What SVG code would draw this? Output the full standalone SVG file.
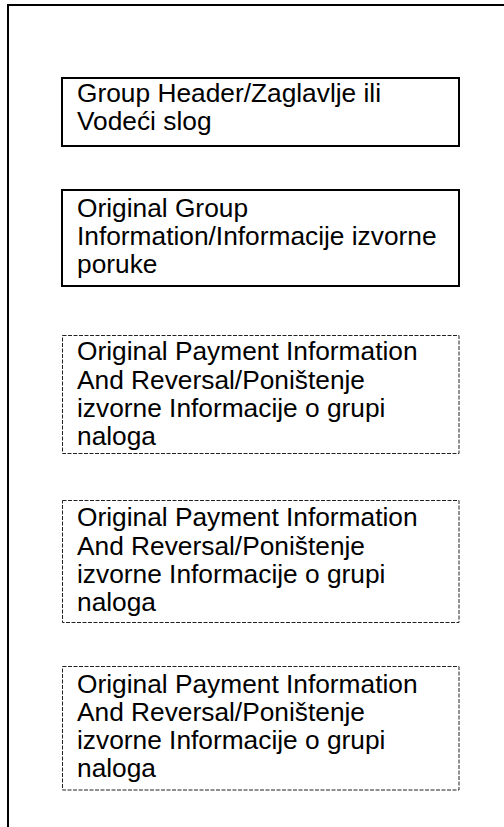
<svg xmlns="http://www.w3.org/2000/svg" width="504" height="827" viewBox="0 0 504 827">
<style>
  .frame { fill: none; stroke: #000; stroke-width: 2; }
  .solid { fill: #fff; stroke: #000; stroke-width: 2; }
  .dashed { fill: #fff; stroke: #222; stroke-width: 1; stroke-dasharray: 4 1.5; }
  text { font-family: "Liberation Sans", Arial, sans-serif; font-size: 26.3px; fill: #000; }
</style>
<rect width="504" height="827" fill="#fff"/>
<g id="frame">
  <path class="frame" d="M8,827 V5 H504"/>
</g>
<g id="connectors"></g>
<g id="group-header">
  <rect class="solid" x="62" y="78" width="397" height="68"/>
  <text x="77" y="101.5">Group Header/Zaglavlje ili</text>
  <text x="77" y="130">Vodeći slog</text>
</g>
<g id="original-group-info">
  <rect class="solid" x="62" y="190" width="397" height="96"/>
  <text x="77" y="216.5">Original Group</text>
  <text x="77" y="245">Information/Informacije izvorne</text>
  <text x="77" y="273">poruke</text>
</g>
<g id="payment-info-1">
  <rect class="dashed" x="62.5" y="335.5" width="396.5" height="118"/>
  <text x="77" y="360">Original Payment Information</text>
  <text x="77" y="388.5">And Reversal/Poništenje</text>
  <text x="77" y="417">izvorne Informacije o grupi</text>
  <text x="77" y="445">naloga</text>
</g>
<g id="payment-info-2">
  <rect class="dashed" x="62.5" y="500.5" width="396.5" height="122"/>
  <text x="77" y="526">Original Payment Information</text>
  <text x="77" y="554.5">And Reversal/Poništenje</text>
  <text x="77" y="583">izvorne Informacije o grupi</text>
  <text x="77" y="611">naloga</text>
</g>
<g id="payment-info-3">
  <rect class="dashed" x="62.5" y="666.5" width="396.5" height="123.5"/>
  <text x="77" y="692.5">Original Payment Information</text>
  <text x="77" y="721">And Reversal/Poništenje</text>
  <text x="77" y="749">izvorne Informacije o grupi</text>
  <text x="77" y="777">naloga</text>
</g>
</svg>
